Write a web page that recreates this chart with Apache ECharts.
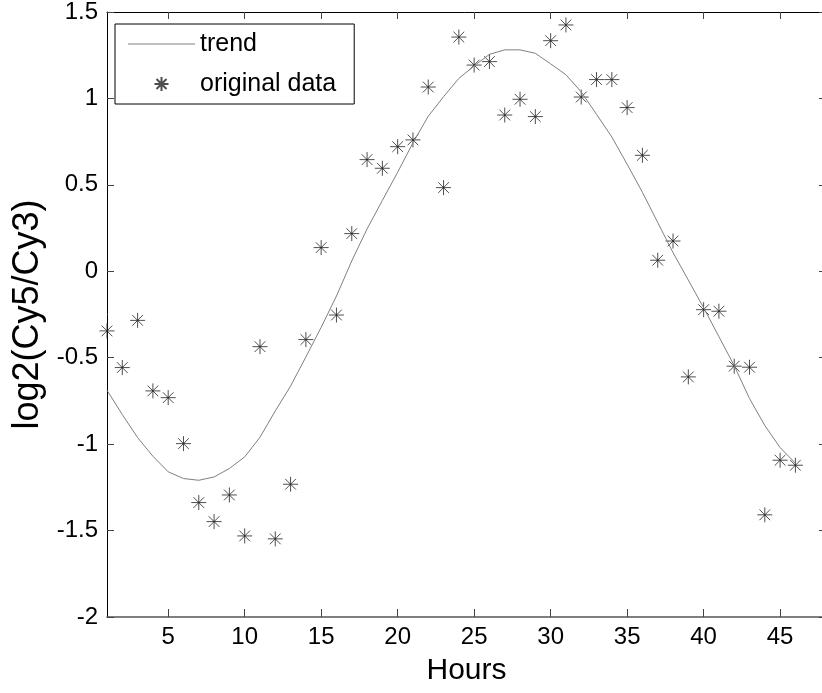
<!DOCTYPE html>
<html>
<head>
<meta charset="utf-8">
<script src="https://cdn.jsdelivr.net/npm/echarts@6/dist/echarts.min.js"></script>
<style>
  html, body { margin: 0; padding: 0; background: #fff; }
  #chart { width: 822px; height: 693px; }
</style>
</head>
<body>
<div id="chart"></div>
<script>
// hours (x)
var hours = [1, 2, 3, 4, 5, 6, 7, 8, 9, 10, 11, 12, 13, 14, 15, 16, 17, 18, 19, 20, 21, 22, 23,
    24, 25, 26, 27, 28, 29, 30, 31, 32, 33, 34, 35, 36, 37, 38, 39, 40, 41, 42, 43, 44, 45, 46];
// measured log2 ratios
var observed = [-0.345, -0.557, -0.284, -0.692, -0.731, -0.997, -1.338, -1.448, -1.294, -1.531,
    -0.436, -1.548, -1.232, -0.395, 0.137, -0.253, 0.218, 0.646, 0.596, 0.721,
    0.76, 1.066, 0.484, 1.355, 1.193, 1.213, 0.904, 0.995, 0.895, 1.334,
    1.425, 1.008, 1.109, 1.109, 0.947, 0.671, 0.064, 0.175, -0.611, -0.222,
    -0.231, -0.549, -0.555, -1.409, -1.093, -1.122];
// fitted trend
var trend = [-0.688, -0.829, -0.962, -1.07, -1.16, -1.199, -1.209, -1.19, -1.141, -1.074,
    -0.96, -0.808, -0.664, -0.496, -0.324, -0.143, 0.06, 0.245, 0.41, 0.573,
    0.743, 0.897, 1.01, 1.116, 1.188, 1.255, 1.281, 1.281, 1.261, 1.2,
    1.137, 1.038, 0.908, 0.777, 0.619, 0.457, 0.282, 0.108, -0.051, -0.211,
    -0.378, -0.546, -0.736, -0.892, -1.02, -1.11];
var xTicks = [5, 10, 15, 20, 25, 30, 35, 40, 45];

var font = 'Liberation Sans, Arial, sans-serif';
var star = 'path://M0,7L14,7M7,0L7,14M2,2L12,12M12,2L2,12';
// plain line for the legend, box 67x14
var lineIcon = 'path://M0,0M67,14M0,6.5L67,6.5L67,7.5L0,7.5Z';

var trendData = [];
var obsData = [];
for (var i = 0; i < hours.length; i++) {
    trendData.push([hours[i], trend[i]]);
    obsData.push([hours[i], observed[i]]);
}

var myChart = echarts.init(document.getElementById('chart'), null, { renderer: 'canvas' });

var option = {
    animation: false,
    backgroundColor: '#fff',
    // the plot box runs a little past the right edge of the picture
    grid: { left: 107, top: 12, right: -4, bottom: 76, outerBoundsMode: 'none' },
    legend: {
        left: 115,
        top: 24,
        orient: 'vertical',
        padding: [6, 18, 6, 13],
        itemGap: 12,
        itemWidth: 67,
        itemHeight: 14,
        borderColor: '#000',
        borderWidth: 1,
        backgroundColor: '#fff',
        textStyle: { fontFamily: font, fontSize: 25, color: '#000', lineHeight: 28 },
        data: [{ name: 'trend', icon: lineIcon }, { name: 'original data' }]
    },
    xAxis: [{
        type: 'value',
        min: 1,
        max: 48,
        name: 'Hours',
        nameLocation: 'middle',
        nameGap: 39,
        nameTextStyle: { fontFamily: font, fontSize: 30, color: '#000' },
        splitLine: { show: false },
        axisLine: { onZero: false, lineStyle: { color: '#555', width: 1.5 } },
        axisTick: { inside: true, length: 8, customValues: xTicks, lineStyle: { color: '#444' } },
        axisLabel: { customValues: xTicks, margin: 8, fontFamily: font, fontSize: 24, color: '#000' }
    }, {
        type: 'value',
        position: 'top',
        min: 1,
        max: 48,
        splitLine: { show: false },
        axisLine: { onZero: false, lineStyle: { color: '#000' } },
        axisTick: { inside: true, length: 7, customValues: xTicks, lineStyle: { color: '#444' } },
        axisLabel: { show: false }
    }],
    yAxis: [{
        type: 'value',
        min: -2,
        max: 1.5,
        interval: 0.5,
        name: 'log2(Cy5/Cy3)',
        nameLocation: 'middle',
        nameGap: 60,
        nameTextStyle: { fontFamily: font, fontSize: 36, color: '#000' },
        splitLine: { show: false },
        axisLine: { onZero: false, lineStyle: { color: '#000' } },
        axisTick: { inside: true, length: 7, lineStyle: { color: '#444' } },
        axisLabel: { margin: 9, fontFamily: font, fontSize: 24, color: '#000' }
    }, {
        type: 'value',
        position: 'right',
        min: -2,
        max: 1.5,
        interval: 0.5,
        splitLine: { show: false },
        axisLine: { show: false, onZero: false },
        axisTick: { show: true, inside: true, length: 7, lineStyle: { color: '#444' } },
        axisLabel: { show: false }
    }],
    series: [{
        name: 'trend',
        type: 'line',
        data: trendData,
        symbol: 'none',
        lineStyle: { color: '#808080', width: 1 },
        itemStyle: { color: '#808080' }
    }, {
        name: 'original data',
        type: 'scatter',
        data: obsData,
        symbol: star,
        symbolSize: 15,
        itemStyle: { color: 'none', borderColor: '#222', borderWidth: 1 }
    }]
};

myChart.setOption(option);
</script>
</body>
</html>
